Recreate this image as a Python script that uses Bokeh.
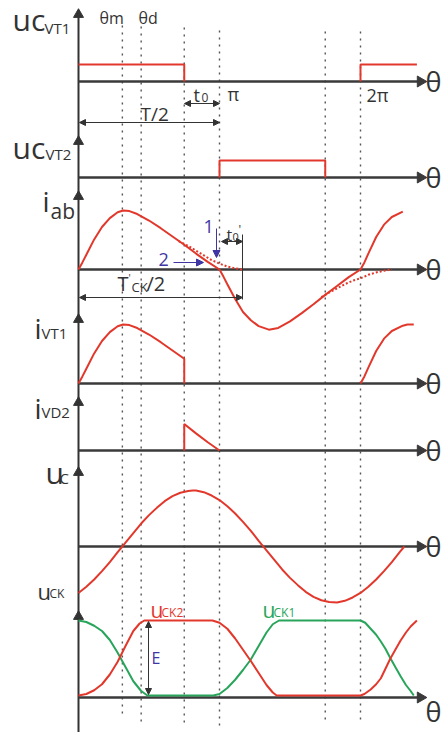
import numpy as np
from bokeh.plotting import figure
from bokeh.models import Range1d, Arrow, NormalHead
from bokeh.core.properties import value
from bokeh.embed import file_html
from bokeh.resources import INLINE

nan = float("nan")

# ---- waveforms (θ in degrees, values in per-unit of each trace's peak) ----
vt1_theta = [0, 135, 135, nan, 360, 360, 432]
vt1_vals = [1, 1, 0, nan, 0, 1, 1]

vt2_theta = [180, 180, 315, 315]
vt2_vals = [0, 1, 1, 0]

iab_theta = [0, 5, 10, 20, 30, 40, 50, 57, 65, 75, 90, 105, 120, 135, 150, 165, 180,
             185, 190, 200, 210, 220, 230, 243, 255, 270, 285, 300, 315, 330, 345, 360,
             365, 370, 380, 390, 400, 414]
iab_vals = [0, 0.12, 0.25, 0.51, 0.72, 0.87, 0.97, 1.0, 0.99, 0.94, 0.83, 0.70, 0.56, 0.42, 0.27, 0.13, 0,
            -0.12, -0.25, -0.50, -0.72, -0.86, -0.96, -1.02, -0.99, -0.88, -0.74, -0.59, -0.43, -0.28, -0.13, 0,
            0.12, 0.27, 0.55, 0.76, 0.89, 0.98]

iab_free1_theta = [128, 140, 150, 160, 170, 180, 190, 200, 209]
iab_free1_vals = [0.48, 0.40, 0.32, 0.24, 0.16, 0.10, 0.05, 0.02, 0]
iab_free2_theta = [310, 320, 330, 340, 350, 360, 370, 380, 390, 400]
iab_free2_vals = [-0.47, -0.39, -0.32, -0.25, -0.19, -0.15, -0.09, -0.05, -0.02, 0]

ivt1_theta = [0, 5, 10, 20, 30, 40, 50, 57, 65, 75, 90, 105, 120, 135, 135, nan,
              360, 365, 370, 380, 390, 400, 414, 420, 428]
ivt1_vals = [0, 0.12, 0.25, 0.51, 0.72, 0.87, 0.97, 1.0, 0.99, 0.94, 0.83, 0.70, 0.56, 0.42, 0, nan,
             0, 0.12, 0.27, 0.55, 0.76, 0.89, 0.98, 1.0, 1.0]

ivd2_theta = [135, 135, 150, 165, 180]
ivd2_vals = [0, 0.45, 0.29, 0.14, 0]

uc_theta = [0, 10, 20, 30, 40, 50, 56, 60, 70, 80, 90, 100, 110, 120, 130, 140, 146, 150, 160, 170,
            180, 190, 200, 210, 220, 230, 240, 250, 260, 270, 280, 290, 300, 310, 320, 330, 340,
            350, 360, 370, 380, 390, 400, 410, 416]
uc_vals = [-0.83, -0.72, -0.59, -0.44, -0.28, -0.10, 0, 0.07, 0.24, 0.41, 0.56, 0.69, 0.81, 0.90, 0.96,
           0.99, 1.0, 1.0, 0.97, 0.91, 0.83, 0.72, 0.59, 0.44, 0.28, 0.10, -0.07, -0.24, -0.41, -0.56,
           -0.69, -0.81, -0.90, -0.96, -0.99, -1.0, -0.97, -0.91, -0.83, -0.72, -0.59, -0.44, -0.28,
           -0.10, 0]

uck2_theta = [0, 10, 20, 30, 40, 50, 60, 70, 78, 84, 171, 180, 190, 200, 210, 220, 230, 240, 248, 253,
              360, 365, 373, 380, 386, 392, 398, 405, 411, 418, 424, 432]
uck2_vals = [0, 0.02, 0.07, 0.15, 0.28, 0.45, 0.66, 0.86, 0.96, 1.0, 1.0, 0.97, 0.89, 0.76, 0.61, 0.46,
             0.30, 0.14, 0.04, 0, 0, 0.02, 0.08, 0.15, 0.23, 0.36, 0.49, 0.62, 0.73, 0.84, 0.92, 1.0]

uck1_theta = [0, 10, 20, 30, 40, 50, 60, 70, 80, 88, 172, 180, 190, 200, 210, 220, 230, 240, 248, 256,
              360, 366, 373, 380, 386, 392, 398, 405, 411, 418, 424, 428]
uck1_vals = [1.0, 0.98, 0.93, 0.86, 0.74, 0.57, 0.38, 0.19, 0.06, 0, 0, 0.02, 0.10, 0.21, 0.34, 0.48,
             0.66, 0.84, 0.95, 1.0, 1.0, 0.97, 0.89, 0.81, 0.72, 0.62, 0.50, 0.37, 0.26, 0.14, 0.06, 0]

# switching instants marked by dotted guides: θm, θd, T/2-t0, π, 2π-t0, 2π
mark_theta = [56, 80, 135, 180, 315, 360]

# ---- page layout ----
W, H = 441, 732
X0 = 78                 # page x of θ = 0
DEG_PX = 141 / 180      # page px per degree
AX_END = 420            # end of horizontal axes
RED, GREEN, BLUE, INK = "#e2382c", "#28a55a", "#3f36a3", "#333333"
FONT = "Open Sans"

# panel name -> (page y of zero line, px per unit)
PANELS = {
    "vt1": (81, 17), "vt2": (177, 17), "iab": (269, 59), "ivt1": (383, 59),
    "ivd2": (450, 59), "uc": (546, 56), "uck": (695, 75),
}
axis_y = [81, 177, 269, 383, 450, 546, 697]
arrow_tip_y = [9, 136, 191, 314, 397, 467, 611]

p = figure(width=W, height=H, x_range=Range1d(0, W), y_range=Range1d(H, 0),
           output_backend="svg", toolbar_location=None,
           x_axis_type=None, y_axis_type=None, min_border=0)
p.outline_line_color = None
p.grid.visible = False
p.extra_x_ranges = {"theta": Range1d(-X0 / DEG_PX, (W - X0) / DEG_PX)}
p.extra_y_ranges = {k: Range1d(start=(b - H) / s, end=b / s) for k, (b, s) in PANELS.items()}

# dotted guides
p.segment(x0=mark_theta, x1=mark_theta, y0=[25, 26, 27, 30, 31, 31], y1=[713, 722, 723, 727, 720, 720],
          x_range_name="theta", line_color="#555555", line_width=1.4, line_dash="2 5")

# axes
p.segment(x0=[X0], y0=[10], x1=[X0], y1=[H], line_color=INK, line_width=2)
p.segment(x0=[X0] * len(axis_y), y0=axis_y, x1=[AX_END] * len(axis_y), y1=axis_y,
          line_color="#3a3a3a", line_width=2.3)
p.scatter(x=[AX_END] * len(axis_y), y=axis_y, marker="triangle", size=11, angle=-np.pi / 2,
          fill_color="#3a3a3a", line_color="#3a3a3a")
p.scatter(x=[X0] * len(arrow_tip_y), y=[t + 5 for t in arrow_tip_y], marker="triangle", size=10,
          fill_color=INK, line_color=INK)


def trace(xs, ys, panel, color=RED, dash="solid"):
    p.line(x=xs, y=ys, x_range_name="theta", y_range_name=panel,
           line_color=color, line_width=2, line_dash=dash)


trace(vt1_theta, vt1_vals, "vt1")
trace(vt2_theta, vt2_vals, "vt2")
trace(iab_free1_theta, iab_free1_vals, "iab", dash="2 2")
trace(iab_free2_theta, iab_free2_vals, "iab", dash="2 2")
trace(iab_theta, iab_vals, "iab")
trace(ivt1_theta, ivt1_vals, "ivt1")
trace(ivd2_theta, ivd2_vals, "ivd2")
trace(uc_theta, uc_vals, "uc")
trace(uck1_theta, uck1_vals, "uck", color=GREEN)
trace(uck2_theta, uck2_vals, "uck", color=RED)


def label(items, size, color=INK):
    p.text(x=[i[1] for i in items], y=[i[2] for i in items], text=[i[0] for i in items],
           text_font=value(FONT), text_font_size=value(f"{size}px"), text_color=color,
           text_align="left", text_baseline="middle")


# axis names
label([("θ", 425, y) for y in axis_y[:-1]] + [("θ", 425, 711)], 27)
label([("uc", 12, 19), ("uc", 12, 147), ("u", 45, 472)], 30)
label([("VT1", 44, 27), ("VT2", 45, 153), ("VT1", 41, 332), ("VD2", 41, 411), ("C", 59, 477)], 15)
label([("i", 42, 200), ("i", 34, 327), ("i", 34, 407)], 28)
label([("ab", 50, 210)], 21)
label([("u", 37, 590)], 22)
label([("CK", 49, 593)], 12)

# time marks
label([("θm", 99, 17), ("θd", 138, 17)], 16)
label([("t", 193, 94), ("π", 227, 93), ("2π", 366, 94)], 18)
label([("T/2", 140, 113)], 19)
label([("0", 201, 97)], 12)

# commutation detail on i_ab
label([("1", 203, 226), ("2", 158, 259)], 18, color=BLUE)
label([("t", 226, 234)], 16)
label([("0", 232, 236)], 11)
label([("'", 238, 229)], 12)
label([("T", 117, 283), ("/2", 146, 283)], 20)
label([("'", 128, 277)], 10)
label([("CK", 131, 286)], 13)

# capacitor voltages
label([("u", 150, 609)], 21, color=RED)
label([("CK2", 161, 612)], 12, color=RED)
label([("u", 262, 609)], 21, color=GREEN)
label([("CK1", 273, 612)], 12, color=GREEN)
label([("E", 151, 657)], 16, color=BLUE)


def dim_arrow(x0, y0, x1, y1, color=INK, both=True, size=6, width=1.0):
    head = dict(size=size, fill_color=color, line_color=color)
    p.add_layout(Arrow(start=NormalHead(**head) if both else None, end=NormalHead(**head),
                       x_start=x0, y_start=y0, x_end=x1, y_end=y1,
                       line_color=color, line_width=width))


dim_arrow(184, 103, 219, 103)
dim_arrow(79, 122, 219, 122)
dim_arrow(221, 241, 242, 241)
dim_arrow(79, 297, 242, 297)
dim_arrow(148, 621, 148, 694)
dim_arrow(216, 228, 216, 257, color=BLUE, both=False, size=7)
dim_arrow(173, 262, 203, 262, color=BLUE, both=False, size=7)
p.segment(x0=[242], y0=[234], x1=[242], y1=[299], line_color=INK, line_width=1)

open("out.html", "w").write(file_html(p, INLINE))
